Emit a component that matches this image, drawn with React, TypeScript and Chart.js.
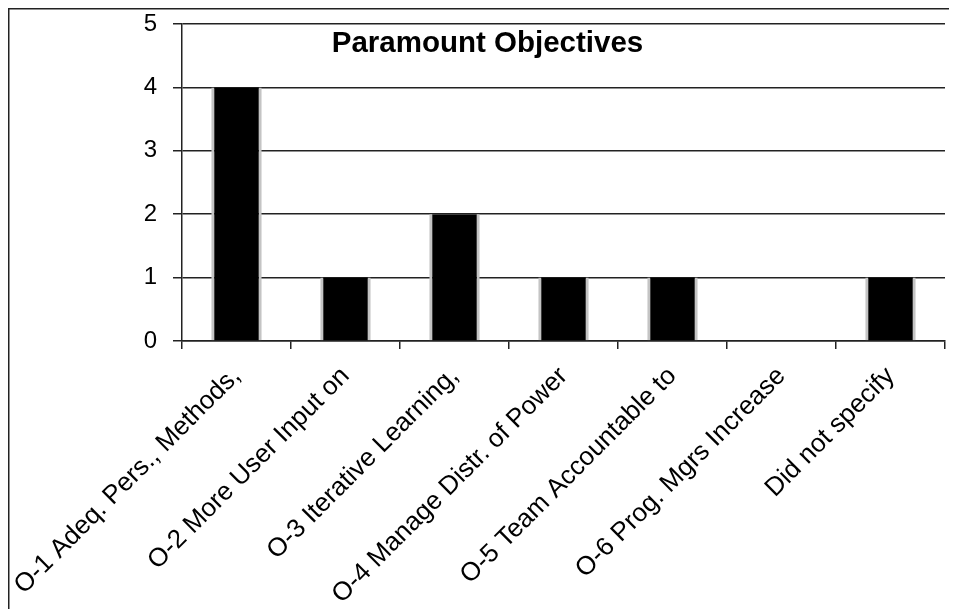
import React, { useEffect, useRef } from 'react';
import { Chart, registerables } from 'chart.js';

Chart.register(...registerables);

const categories = [
  'O-1 Adeq. Pers., Methods,',
  'O-2 More User Input on',
  'O-3 Iterative Learning,',
  'O-4 Manage Distr. of Power',
  'O-5 Team Accountable to',
  'O-6 Prog. Mgrs Increase',
  'Did not specify',
];
const counts = [4, 1, 2, 1, 1, 0, 1];
const yMin = 0;
const yMax = 5;
const yStep = 1;
const chartTitle = 'Paramount Objectives';

const FONT = '"Liberation Sans", Arial, Helvetica, sans-serif';

const overlay = {
  id: 'overlay',
  afterDraw(chart: any) {
    const { ctx, width, height, chartArea } = chart;
    ctx.save();
    ctx.strokeStyle = '#222';
    ctx.lineWidth = 1.5;
    ctx.beginPath();
    ctx.moveTo(0.75, height);
    ctx.lineTo(0.75, 0.75);
    ctx.lineTo(width, 0.75);
    ctx.stroke();
    ctx.font = `bold 29.5px ${FONT}`;
    ctx.fillStyle = '#000';
    ctx.textAlign = 'center';
    ctx.textBaseline = 'alphabetic';
    ctx.fillText(chartTitle, width / 2 + 5, chartArea.top + 28);
    ctx.restore();
  },
};

export default function App() {
  const ref = useRef<HTMLCanvasElement>(null);
  useEffect(() => {
    if (!ref.current) return;
    const chart = new Chart(ref.current, {
      type: 'bar',
      data: {
        labels: categories,
        datasets: [
          {
            data: counts,
            backgroundColor: '#000',
            borderColor: '#c4c4c4',
            borderWidth: { left: 3, right: 3, top: 0, bottom: 0 },
            borderSkipped: false,
            barPercentage: 0.463,
            categoryPercentage: 1,
          },
        ],
      },
      options: {
        responsive: false,
        animation: false,
        layout: { padding: { left: 0, top: 16, right: 12, bottom: 0 } },
        plugins: {
          legend: { display: false },
          title: { display: false },
          tooltip: { enabled: false },
        },
        scales: {
          x: {
            afterFit: (s: any) => {
              s.height = 268;
              s.paddingLeft = 0;
              s.paddingRight = 0;
            },
            grid: {
              drawOnChartArea: false,
              drawTicks: true,
              tickLength: 8,
              color: '#222',
              lineWidth: 1.5,
            },
            border: { color: '#222', width: 1.5 },
            ticks: {
              color: '#000',
              font: { family: FONT, size: 26 },
              minRotation: 45,
              maxRotation: 45,
              padding: 12,
              autoSkip: false,
            },
          },
          y: {
            min: yMin,
            max: yMax,
            afterFit: (s: any) => {
              s.width = 174;
              s.paddingTop = 0;
              s.paddingBottom = 0;
            },
            grid: {
              color: '#222',
              lineWidth: 1.5,
              tickLength: 9,
            },
            border: { color: '#222', width: 1.5 },
            ticks: {
              stepSize: yStep,
              color: '#000',
              font: { family: FONT, size: 24 },
              padding: 16,
            },
          },
        },
      },
      plugins: [overlay],
    });
    return () => chart.destroy();
  }, []);
  return (
    <canvas
      ref={ref}
      width={949}
      height={601}
      style={{ display: 'block', width: 949, height: 601 }}
    />
  );
}
